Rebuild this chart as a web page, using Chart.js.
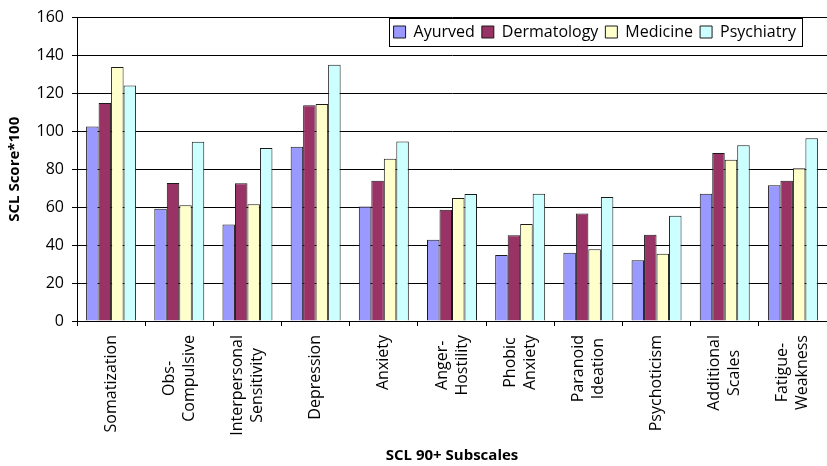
<!DOCTYPE html>
<html>
<head>
<meta charset="utf-8">
<script src="https://cdn.jsdelivr.net/npm/chart.js@4/dist/chart.umd.min.js"></script>
<style>
html,body{margin:0;padding:0;background:#fff;}
#wrap{width:827px;height:466px;position:relative;}
</style>
</head>
<body>
<div id="wrap"><canvas id="c" width="827" height="466"></canvas></div>
<script>
const categories = [
  'Somatization', ['Obs-', 'Compulsive'], ['Interpersonal', 'Sensitivity'], 'Depression', 'Anxiety',
  ['Anger-', 'Hostility'], ['Phobic', 'Anxiety'], ['Paranoid', 'Ideation'], 'Psychoticism',
  ['Additional', 'Scales'], ['Fatigue-', 'Weakness']
];
const ayurved     = [102.6, 59.2, 50.9, 91.9, 60.4, 42.9, 34.8, 36.0, 32.0, 67.1, 71.6];
const dermatology = [114.9, 72.8, 72.7, 113.8, 73.9, 58.7, 45.2, 56.7, 45.5, 88.6, 74.0];
const medicine    = [133.9, 61.1, 61.6, 114.4, 85.5, 64.9, 51.2, 37.9, 35.5, 85.1, 80.6];
const psychiatry  = [124.2, 94.5, 91.2, 135.1, 94.6, 67.0, 67.1, 65.4, 55.5, 92.7, 96.4];
const yTicks = [0, 20, 40, 60, 80, 100, 120, 140, 160];

const FONT = "'Open Sans', 'Liberation Sans', sans-serif";

const labelPlugin = {
  id: 'catLabels',
  afterDraw(chart) {
    const xs = chart.scales.x;
    const ctx = chart.ctx;
    ctx.save();
    ctx.font = '16px ' + FONT;
    ctx.fillStyle = '#000';
    ctx.textAlign = 'center';
    ctx.textBaseline = 'middle';
    const lineH = 20;
    const topY = chart.chartArea.bottom + 14;
    categories.forEach((lab, i) => {
      const lines = Array.isArray(lab) ? lab : [lab];
      const x = xs.getPixelForTick(i);
      let maxW = 0;
      lines.forEach(l => { maxW = Math.max(maxW, ctx.measureText(l).width); });
      lines.forEach((l, j) => {
        const cx = x + (j - (lines.length - 1) / 2) * lineH;
        ctx.save();
        ctx.translate(cx, topY + maxW / 2);
        ctx.rotate(-Math.PI / 2);
        ctx.fillText(l, 0, 0);
        ctx.restore();
      });
    });
    ctx.restore();
  }
};

const legendPlugin = {
  id: 'legendPos',
  beforeLayout(chart) {
    const lg = chart.legend;
    if (lg && !lg._wrappedFit) {
      const f = lg.fit.bind(lg);
      lg.fit = function () { f(); this._realH = this.height; this.height = 0; };
      lg._wrappedFit = true;
    }
  },
  afterLayout(chart) {
    const lg = chart.legend;
    if (!lg) return;
    const h = lg._realH || 30;
    lg.right = 803;
    lg.left = 0;
    lg.top = 17;
    lg.bottom = 17 + h;
    lg.height = h;
  },
  afterDraw(chart) {
    const lg = chart.legend;
    if (!lg || !lg.legendHitBoxes || !lg.legendHitBoxes.length) return;
    const hb = lg.legendHitBoxes;
    const l = hb[0].left;
    const last = hb[hb.length - 1];
    const r = last.left + last.width;
    const t = hb[0].top;
    const ctx = chart.ctx;
    ctx.save();
    ctx.strokeStyle = '#000';
    ctx.lineWidth = 1;
    const x0 = Math.round(l - 5) + 0.5;
    ctx.strokeRect(x0, Math.round(t - 6) + 0.5, Math.round(r + 6) - x0 + 0.5, 28);
    ctx.restore();
  }
};

const mk = (label, data, color) => ({
  label, data, backgroundColor: color, borderColor: '#1a1a1a', borderWidth: 1,
  barPercentage: 1.0, categoryPercentage: 0.733
});

new Chart(document.getElementById('c'), {
  type: 'bar',
  data: {
    labels: categories,
    datasets: [
      mk('Ayurved', ayurved, '#9999FF'),
      mk('Dermatology', dermatology, '#993366'),
      mk('Medicine', medicine, '#FFFFCC'),
      mk('Psychiatry', psychiatry, '#CCFFFF')
    ]
  },
  options: {
    responsive: false,
    animation: false,
    devicePixelRatio: 1,
    layout: { padding: { top: 13, right: 0, left: 0, bottom: 0 } },
    plugins: {
      legend: {
        position: 'top',
        align: 'end',
        labels: {
          boxWidth: 12, boxHeight: 12, padding: 7, color: '#000',
          font: { family: FONT, size: 16 }
        }
      },
      tooltip: { enabled: false }
    },
    scales: {
      x: {
        offset: true,
        grid: { display: true, drawOnChartArea: false, drawTicks: true, tickLength: 5, color: '#000', lineWidth: 1 },
        border: { display: true, color: '#000', width: 1 },
        ticks: { display: false, autoSkip: false },
        title: {
          display: true, text: 'SCL 90+ Subscales', color: '#000',
          font: { family: FONT, size: 15, weight: 'bold' },
          padding: { top: 0, bottom: 1 }
        },
        afterFit(s) { s.height = 145; }
      },
      y: {
        min: 0, max: 160,
        afterBuildTicks(s) { s.ticks = yTicks.map(v => ({ value: v })); },
        grid: { color: '#000', lineWidth: 1, tickLength: 5, drawTicks: true },
        border: { display: true, color: '#000', width: 1 },
        ticks: { color: '#000', padding: 8, font: { family: FONT, size: 16 } },
        title: {
          display: true, text: 'SCL Score*100', color: '#000',
          font: { family: FONT, size: 15, weight: 'bold' },
          padding: { top: 6, bottom: 0 }
        },
        afterFit(s) { s.width = 77; }
      }
    }
  },
  plugins: [labelPlugin, legendPlugin]
});
</script>
</body>
</html>
